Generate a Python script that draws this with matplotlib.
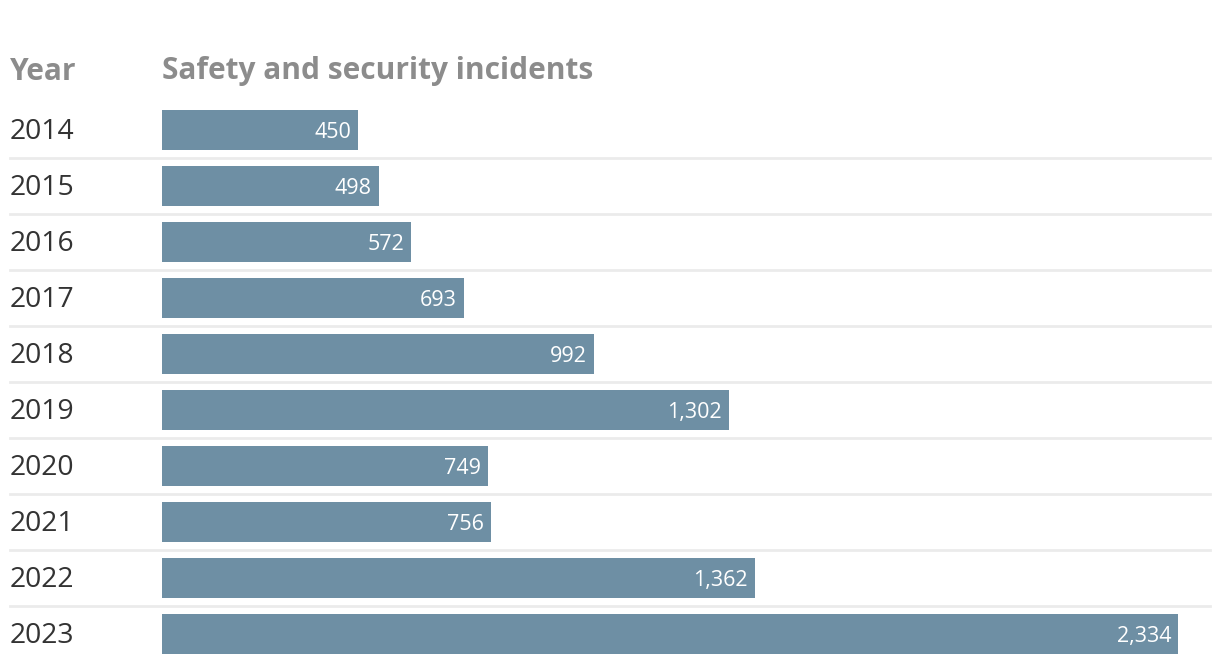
import matplotlib
matplotlib.use("Agg")
import matplotlib.pyplot as plt

# data
years = ["2014", "2015", "2016", "2017", "2018", "2019", "2020", "2021", "2022", "2023"]
incidents = [450, 498, 572, 693, 992, 1302, 749, 756, 1362, 2334]

plt.rcParams['font.family'] = ['Open Sans', 'DejaVu Sans']

W, H = 1220, 670
fig = plt.figure(figsize=(W / 100, H / 100), dpi=100)
ax = fig.add_axes([0, 0, 1, 1])

# pixel layout
x0 = 162          # bar start
px_per_unit = (1178 - 162) / 2334
row0 = 130        # center of first row
pitch = 56

ax.set_xlim(-x0 / px_per_unit, (W - x0) / px_per_unit)
ax.set_ylim((H - row0) / pitch, -row0 / pitch)
ax.axis("off")

pos = list(range(len(years)))
ax.barh(pos, incidents, height=40 / pitch, color="#6e8fa4", zorder=2)

# separators
for i in pos[:-1]:
    ax.axhline(i + 0.5, xmin=10 / W, xmax=1210 / W, color="#ebebeb", lw=2, zorder=1)

for i, (yr, v) in enumerate(zip(years, incidents)):
    ax.text(10 / W, i + 9.3 / pitch, yr, transform=ax.get_yaxis_transform(),
            ha="left", va="baseline", fontsize=20.3, color="#333333")
    ax.annotate(f"{v:,}", (v, i + 8.3 / pitch), xytext=(-5, 0), textcoords="offset points",
                ha="right", va="baseline", fontsize=15.5, color="white", zorder=3)

# headers
hy = (79.5 - row0) / pitch
ax.text(10 / W, hy, "Year", transform=ax.get_yaxis_transform(), ha="left", va="baseline",
        fontsize=21.5, fontweight="bold", color="#8c8c8c")
ax.text(0, hy, "Safety and security incidents", ha="left", va="baseline",
        fontsize=21.5, fontweight="bold", color="#8c8c8c")

fig.savefig("out.png", dpi=100)
